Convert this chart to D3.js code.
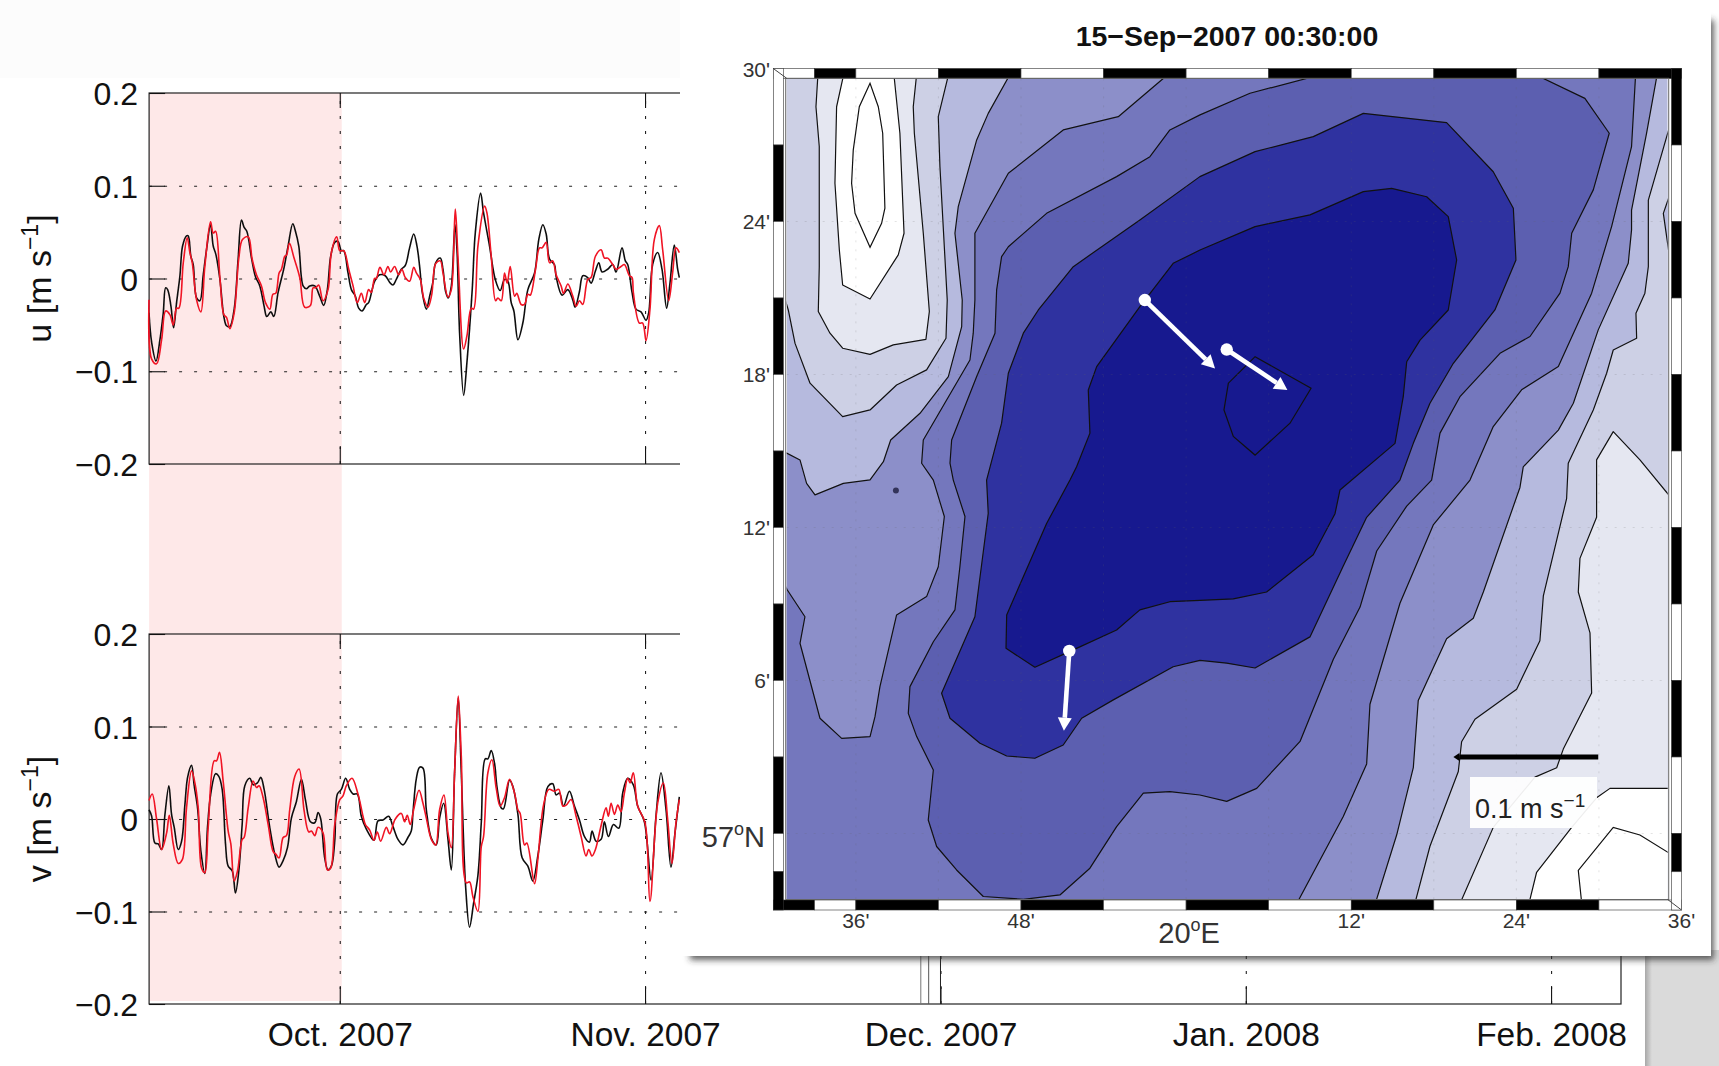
<!DOCTYPE html>
<html>
<head>
<meta charset="utf-8">
<script src="https://cdn.jsdelivr.net/npm/d3@7"></script>
<style>
  html, body { margin: 0; padding: 0; background: #fff; overflow: hidden; }
  svg { display: block; font-family: "Liberation Sans", Arial, sans-serif; }
</style>
</head>
<body>
<svg width="1719" height="1066"></svg>
<script>
// Time series: [days since 1 Oct 2007, velocity in m/s]
const uBlack = [[-19.37,-.037],[-19.1,-.069],[-18.66,-.089],[-18.26,-.066],[-17.92,-.037],[-17.68,-.01],[-17.48,-.012],[-17.14,-.03],[-16.87,-.053],[-16.57,-.026],[-16.23,.003],[-15.96,.035],[-15.56,.046],[-15.39,.046],[-15.12,.024],[-14.88,.015],[-14.54,-.021],[-14.2,-.024],[-13.87,.003],[-13.53,.031],[-13.12,.058],[-12.85,.035],[-12.58,.026],[-12.17,-.001],[-11.77,-.041],[-11.5,-.051],[-11.16,-.052],[-10.72,-.033],[-10.32,.021],[-9.98,.063],[-9.71,.055],[-9.44,.051],[-8.96,.022],[-8.56,.002],[-8.12,-.008],[-7.68,-.03],[-7.41,-.041],[-7,-.036],[-6.7,-.041],[-6.26,-.015],[-5.65,.012],[-5.25,.035],[-4.77,.059],[-4.5,.051],[-4.16,.035],[-3.72,-.008],[-3.39,-.011],[-3.05,-.008],[-2.54,-.008],[-2.04,-.019],[-1.63,-.029],[-1.26,-.012],[-.92,.024],[-.51,.039],[-.18,.04],[.16,.03],[.4,.03],[.84,.006],[1.18,-.012],[1.58,-.019],[1.92,-.032],[2.26,-.035],[2.7,-.028],[2.93,-.026],[3.54,-.003],[4.05,.004],[4.62,.003],[5.06,-.004],[5.4,-.007],[5.74,-.001],[6.25,.01],[6.65,.014],[7.09,.033],[7.51,.048],[7.84,.035],[8.11,.013],[8.38,-.015],[8.79,-.033],[9.13,-.019],[9.47,-.003],[9.74,.017],[10.21,.022],[10.48,.01],[10.75,-.014],[11.02,-.021],[11.33,-.008],[11.7,.058],[11.9,.031],[12.17,-.059],[12.58,-.126],[12.91,-.091],[13.45,-.012],[13.76,.049],[14.3,.092],[14.6,.071],[15.21,.035],[15.79,-.001],[16.29,-.013],[16.73,-.001],[17.07,-.003],[17.41,-.026],[17.68,-.035],[18.09,-.066],[18.59,-.048],[19.1,-.012],[19.78,.006],[20.21,.042],[20.62,.058],[20.96,.048],[21.3,.021],[21.8,.015],[21.97,.002],[22.58,-.018],[23.16,-.012],[23.66,-.023],[23.9,-.031],[24.34,-.014],[24.68,.003],[25.18,.001],[25.52,-.005],[25.96,.008],[26.3,.017],[26.64,.007],[27.21,.01],[27.72,.015],[28.06,.007],[28.66,.033],[29,.019],[29.24,.015],[29.68,-.015],[30.08,-.033],[30.59,-.036],[31.1,-.045],[31.37,-.037],[31.77,.015],[32.28,.028],[32.72,.01],[33.19,-.032],[33.53,-.005],[33.97,.036],[34.31,.01],[34.48,.001]];
const uRed = [[-19.37,-.023],[-19.1,-.087],[-18.6,-.092],[-18.09,-.066],[-17.68,-.035],[-17.25,-.039],[-16.91,-.05],[-16.57,-.032],[-16.33,-.032],[-15.89,.017],[-15.49,.044],[-15.22,.028],[-14.98,.017],[-14.54,-.023],[-14.1,-.036],[-13.7,.013],[-13.12,.061],[-12.85,.049],[-12.61,.051],[-12.17,.001],[-11.77,-.039],[-11.5,-.042],[-11.16,-.054],[-10.72,-.037],[-10.25,.022],[-9.88,.042],[-9.3,.045],[-8.9,.021],[-8.46,.004],[-7.95,-.008],[-7.54,-.026],[-7.1,-.033],[-6.79,-.017],[-6.5,-.016],[-6.16,.006],[-5.92,.01],[-5.58,.024],[-5.41,.025],[-5.11,.038],[-4.64,.022],[-4.06,.001],[-3.56,-.031],[-2.98,-.029],[-2.71,-.01],[-2.44,-.01],[-2.14,-.007],[-1.7,-.024],[-1.19,-.012],[-.85,.028],[-.31,.045],[0,.03],[.4,.03],[.91,.01],[1.35,-.008],[1.78,-.026],[2.19,-.016],[2.53,-.026],[2.93,-.012],[3.2,-.015],[3.54,0],[3.71,0],[4.08,.012],[4.49,.004],[4.89,.013],[5.16,.007],[5.57,.013],[5.98,.004],[6.31,.01],[6.65,.001],[7.09,-.003],[7.51,.012],[7.78,.006],[8.18,-.001],[8.52,-.021],[8.96,-.031],[9.33,-.018],[9.74,.016],[10.21,.019],[10.48,.006],[10.99,-.02],[11.33,-.012],[11.73,.075],[12,.024],[12.58,-.076],[12.91,-.062],[13.35,-.032],[13.59,-.033],[14.03,.035],[14.71,.078],[14.94,.071],[15.38,.024],[15.82,-.024],[16.06,-.021],[16.4,-.024],[16.73,.006],[17,-.005],[17.31,.013],[17.75,-.019],[17.98,-.016],[18.42,-.028],[18.76,-.028],[19.1,-.017],[19.34,-.018],[19.88,.01],[20.28,.033],[20.55,.033],[20.96,.039],[21.3,.017],[21.63,.019],[21.97,.004],[22.48,-.008],[22.72,-.016],[23.16,-.006],[23.66,-.019],[24,-.03],[24.34,-.024],[24.68,-.028],[25.18,-.001],[25.52,.001],[25.96,.024],[26.54,.031],[26.87,.022],[27.21,.022],[27.72,.015],[28.06,.01],[28.56,.013],[28.9,.015],[29.41,.003],[29.68,.001],[29.81,-.015],[30.42,-.048],[30.76,-.048],[31.1,-.067],[31.5,-.033],[31.94,.042],[32.45,.057],[32.79,.031],[33.4,-.024],[33.8,.006],[34.14,.033],[34.48,.028]];
const vBlack = [[-19.37,.01],[-19.1,.003],[-18.77,-.026],[-18.43,-.027],[-18.09,-.033],[-17.75,.005],[-17.35,.036],[-17.08,.005],[-16.81,-.009],[-16.4,-.033],[-16.06,-.024],[-15.72,.016],[-15.45,.045],[-15.05,.058],[-14.78,.036],[-14.44,.012],[-14.1,-.035],[-13.7,-.059],[-13.43,-.009],[-13.09,.028],[-12.61,.049],[-12.28,.046],[-11.94,.032],[-11.6,-.027],[-11.33,-.051],[-10.92,-.056],[-10.59,-.08],[-10.25,-.056],[-9.91,-.006],[-9.64,.036],[-9.13,.044],[-8.8,.037],[-8.36,.039],[-8.02,.045],[-7.68,.032],[-7.11,-.009],[-6.6,-.038],[-6.16,-.052],[-5.75,-.045],[-5.31,-.031],[-4.91,.001],[-4.4,.019],[-3.89,.043],[-3.49,.021],[-2.98,-.003],[-2.54,-.004],[-2.2,.007],[-1.93,0],[-1.53,-.042],[-1.19,-.055],[-.85,-.051],[-.51,-.024],[-.24,.027],[.16,.032],[.6,.044],[1.01,.032],[1.35,.027],[1.78,.027],[2.19,.003],[2.7,-.011],[3.47,-.023],[3.88,-.002],[4.39,-.001],[4.96,.003],[5.4,-.008],[5.91,-.022],[6.42,-.028],[6.92,-.02],[7.26,-.013],[7.44,.008],[7.78,.044],[8.11,.056],[8.45,.055],[8.79,.01],[9.3,-.021],[9.8,-.028],[10.14,.001],[10.55,.017],[10.99,-.022],[11.33,-.055],[11.66,.05],[12.03,.131],[12.34,.05],[12.78,-.073],[13.18,-.117],[13.59,-.091],[14.03,-.061],[14.37,-.004],[14.77,.065],[15.04,.065],[15.38,.074],[15.72,.06],[15.96,.035],[16.4,.012],[16.63,.011],[17.24,.042],[17.58,.035],[18.09,.005],[18.52,-.042],[19.1,-.051],[19.61,-.067],[20.11,-.04],[20.62,-.001],[21.13,.035],[21.63,.038],[21.97,.026],[22.31,.028],[22.72,.014],[23.32,.03],[23.83,.014],[24.34,-.001],[24.85,-.019],[25.35,-.025],[25.62,-.013],[26.03,-.024],[26.54,-.022],[26.87,-.003],[27.28,-.019],[27.79,-.006],[28.33,-.01],[28.73,.028],[29.24,.044],[29.81,.037],[30.25,.014],[30.93,-.003],[31.61,-.066],[32.11,.003],[32.62,.05],[33.13,.01],[33.63,-.052],[34.04,-.015],[34.48,.024]];
const vRed = [[-19.37,.02],[-19.04,.027],[-18.6,0],[-18.09,-.033],[-17.58,-.015],[-17.31,.004],[-16.91,-.027],[-16.4,-.048],[-15.99,-.044],[-15.56,.012],[-15.05,.052],[-14.71,.039],[-14.37,.012],[-14.03,-.053],[-13.7,-.058],[-13.36,-.009],[-12.75,.063],[-12.51,.063],[-12.21,.072],[-11.84,.041],[-11.33,-.013],[-11.06,-.027],[-10.72,-.067],[-10.38,-.056],[-9.91,-.022],[-9.71,-.02],[-9.3,.012],[-8.8,.041],[-8.46,.034],[-8.19,.036],[-7.78,.023],[-7.27,-.006],[-6.77,-.035],[-6.5,-.038],[-6.16,-.042],[-5.75,-.02],[-5.41,-.018],[-5.08,.01],[-4.57,.046],[-4.13,.054],[-3.62,.009],[-3.15,-.014],[-2.88,-.013],[-2.54,-.018],[-2.2,-.009],[-1.7,-.015],[-1.26,-.055],[-.92,-.053],[-.51,-.006],[0,.021],[.33,.025],[.67,.036],[1.24,.044],[1.85,.027],[2.36,.003],[2.6,-.006],[3.04,-.012],[3.47,-.023],[3.81,-.014],[4.15,-.024],[4.73,-.009],[5.06,-.016],[5.64,0],[6.25,.006],[6.58,-.003],[6.85,.004],[7.16,-.006],[7.5,.01],[8.05,.031],[8.45,.017],[8.79,.001],[9.3,-.022],[9.74,-.028],[10.14,.01],[10.58,.026],[10.99,-.015],[11.33,-.031],[11.66,.05],[12.03,.133],[12.34,.068],[12.85,-.069],[13.18,-.068],[13.52,-.084],[14.03,-.1],[14.37,-.03],[14.6,-.019],[15.04,.05],[15.45,.064],[15.89,.033],[16.29,.014],[16.73,.023],[17.24,.043],[17.75,.028],[18.09,.01],[18.32,.006],[18.76,-.028],[19,-.026],[19.78,-.07],[20.11,-.044],[20.69,.015],[21.23,.032],[21.8,.03],[22.24,.032],[22.65,.014],[22.99,.015],[23.49,.021],[24,.003],[24.51,-.019],[25.01,-.04],[25.28,-.033],[25.62,-.04],[25.96,-.033],[26.54,-.007],[27.04,.012],[27.28,.003],[27.55,.017],[27.89,.005],[28.23,.015],[28.56,.008],[28.9,.028],[29.24,.044],[29.48,.039],[29.81,.05],[30.25,.014],[31,-.004],[31.5,-.089],[32.28,.017],[32.86,.039],[33.3,-.001],[33.73,-.048],[34.14,-.004],[34.48,.021]];

const yTicks = [-0.2, -0.1, 0, 0.1, 0.2];
const monthDays = [0, 31, 61, 92, 123];
const monthLabels = ["Oct. 2007", "Nov. 2007", "Dec. 2007", "Jan. 2008", "Feb. 2008"];
const dayRange = [-19.36, 130.1];
const shadedDays = [-19.36, 0.2];
const strayDays = [59, 59.8, 61];

// Map contours: [minutes east of 19E, minutes north of 57N]
const lineD1 = [[30.5,21.6],[31.09,20.53],[31.58,19.22],[32.67,17.66],[35.04,16.35],[37.03,16.61],[38.96,17.59],[41.14,18.18],[42.55,19.42],[42.64,20.92],[42.11,26.15],[41.99,28.11],[42.84,30],[30.5,30]];
const lineA1 = [[33.27,30],[33.1,28.5],[33.34,26.94],[33.34,22.23],[33.27,20.47],[34.12,19.62],[35.04,19.03],[37.03,18.79],[38.72,19.16],[41.09,19.38],[41.34,20.47],[40.9,23.54],[40.25,27.46],[40.17,28.5],[40.46,30]];
const lineB1 = [[35.21,30],[34.6,28.5],[34.48,25.5],[34.8,22.88],[35.04,21.51],[37.03,20.96],[39.08,22.69],[39.5,23.54],[39.2,27.46],[38.72,30]];
const lineC1 = [[37.03,29.42],[36.25,28.5],[35.81,26.8],[35.69,25.5],[35.94,24.32],[37.03,22.99],[37.87,23.93],[38.11,24.52],[37.95,27.46],[37.63,28.5]];
const lineD2 = [[95.5,28.4],[93.59,24.84],[93.59,22.23],[93.34,21.19],[92.69,20.4],[92.74,19.42],[91.04,18.96],[90.56,18.05],[89.59,16.61],[87.77,14.52],[87.65,13.13],[85.96,9.32],[85.71,7.56],[84.02,5.66],[80.99,4.48],[80.02,3.6],[79.78,2.43],[77.72,-.5],[76.5,-3],[95.5,-3]];
const lineA2 = [[95.5,13],[92.98,14.65],[91.04,15.76],[89.83,14.65],[89.83,12.4],[88.62,10.79],[88.5,9.47],[89.35,7.87],[89.47,5.51],[87.41,3.31],[86.93,2.58],[85.35,2.21],[82.32,.24],[79.7,-3],[95.5,-3]];
const lineB2 = [[95.5,1.77],[90.8,1.77],[89.83,1.4],[88.02,.24],[85.47,-1.52],[84.8,-3],[95.5,-3]];
const lineK = [[95.5,-.9],[92.98,-.06],[91.04,.24],[88.5,-1.45],[88.8,-3]];
const lineL = [[95.5,25.6],[94.68,24.32],[95.5,21.2]];
const lineE = [[30.5,15.05],[31.94,14.65],[32.42,13.73],[33.03,13.28],[35.09,13.73],[37.03,13.87],[38,14.58],[38.53,15.43],[40.66,16.48],[42.72,17.92],[43.69,19.88],[43.73,20.92],[43.2,23.54],[43.44,24.58],[44.78,27.2],[45.62,28.24],[47.44,30],[94.31,30],[93.46,27.46],[92.37,24.45],[92.37,23.67],[92.13,22.36],[89.95,19.75],[88.14,16.87],[87.05,15.82],[84.5,14.38],[84.26,13.57],[81.6,9.47],[80.87,8.44],[78.93,7.64],[76.87,5.22],[76.51,2.58],[75.3,-.06],[73.6,-3],[30.5,-3]];
const lineF = [[59.2,30],[58.34,29.61],[55.07,28.11],[51.07,27.59],[47.08,25.89],[44.65,23.54],[44.65,20.92],[44.53,19.62],[44.29,18.57],[40.9,15.43],[40.78,14.52],[41.63,13.86],[42.43,12.43],[41.99,10.46],[41.14,9.29],[38.96,8.57],[37.75,5.76],[37.39,4.58],[37.03,3.8],[34.97,3.73],[33.39,4.52],[31.94,7.46],[32.3,8.5],[31.02,9.55],[30.5,10.1],[30.5,-3],[67.79,-3],[71.42,.67],[73.12,2.73],[73.36,5.07],[75.54,9.03],[77.96,12.1],[80.63,13.86],[82.32,15.96],[84.38,17.4],[87.05,18.31],[89.47,21.19],[90.92,23.8],[92.37,26.94],[92.69,30]];
const lineG = [[71.5,30],[68.76,29.61],[64.64,29.03],[61.01,28.18],[58.82,27.59],[57.37,26.54],[54.95,25.76],[49.86,24.32],[47.08,23.01],[46.59,22.62],[46.23,21.32],[46.11,19.62],[44.78,17.92],[42.96,15.43],[42.84,14.52],[43.08,13.86],[43.93,12.43],[43.56,10.46],[43.2,8.77],[41.63,7.52],[39.93,5.76],[39.81,4.71],[40.42,3.8],[41.63,2.49],[41.26,.53],[41.87,-.51],[43.32,-1.43],[45.26,-2.47],[48.17,-2.58],[50.83,-2.41],[53.01,-1.36],[54.95,.27],[56.89,1.58],[58.82,1.64],[61,1.51],[62.95,1.26],[65.13,1.77],[68.28,3.61],[70.7,6.83],[72.64,8.88],[73.85,11.08],[76.03,12.84],[77.84,13.86],[78.45,15.7],[79.9,17.13],[82.81,18.83],[84.99,19.49],[87.17,21.19],[87.77,22.23],[88.02,23.54],[89.59,25.24],[90.75,27.46],[88.98,28.83],[85.96,29.61],[84.02,30]];
const lineH = [[61,25.76],[65.01,26.74],[69.24,27.33],[72.88,28.24],[78.93,27.88],[82.32,25.95],[83.78,24.52],[83.97,22.49],[82.44,20.53],[79.42,18.44],[77.72,16.87],[76.51,15.3],[75.54,13.86],[73.12,12.4],[71.42,10.49],[69,7.71],[65.01,6.49],[62.95,6.68],[61.01,6.79],[59.06,6.54],[54.71,5.24],[52.41,4.52],[51.07,3.47],[49.01,2.95],[46.96,3.04],[45.02,3.54],[42.84,4.52],[42.23,5.5],[44.65,8.5],[45.62,12.56],[45.5,13.86],[46.59,16.09],[47.08,18.05],[48.17,19.62],[49.26,20.53],[51.8,22.23],[56.64,24.06]];
const lineI = [[61.01,22.88],[65.01,23.8],[69,24.26],[72.88,25.17],[74.94,25.3],[77.48,24.97],[79.05,24.19],[79.66,22.49],[79.05,20.53],[77,19.35],[76.03,18.5],[75.78,17.13],[75.18,15.3],[71.18,13.47],[70.82,12.54],[69.24,10.93],[65.85,9.47],[63.43,9.2],[61.01,9.14],[58.82,9.09],[56.64,8.77],[54.95,7.98],[51.8,7.2],[49.01,6.52],[46.91,7.26],[46.96,8.57],[49.86,12.16],[51.56,13.86],[52.04,14.38],[53.01,15.7],[52.89,17.39],[53.5,18.31],[56.64,20.66],[59.06,22.36]];
const lineJ = [[65.01,18.7],[69.08,17.46],[67.55,16.09],[65.01,14.84],[63.43,15.57],[62.75,16.61],[63.07,17.66],[64.16,18.24]];

const lonEdges = [30, 33, 36, 42, 48, 54, 60, 66, 72, 78, 84, 90, 96];
const latEdges = [30, 27, 24, 21, 18, 15, 12, 9, 6, 3, 0, -1.5, -3];
const lonTicks = [36, 48, 72, 84, 96];
const lonTickLabels = ["36'", "48'", "12'", "24'", "36'"];
const latTicks = [30, 24, 18, 12, 6];
const latTickLabels = ["30'", "24'", "18'", "12'", "6'"];

// Current vectors: start and end in map minutes
const whiteArrows = [[[57,20.92],[62.1,18.24]], [[62.95,18.98],[67.36,17.39]], [[51.51,7.16],[51.12,4.03]]];
const scaleArrow = [[89.95,3],[79.42,3]];
const spot = [38.91,13.45];

const svg = d3.select("svg");
const dayToDate = (d) => new Date(Date.UTC(2007, 9, 1) + d * 864e5);

// Page background
svg.append("rect").attr("width", 680).attr("height", 78).attr("fill", "#fcfcfc");
const defs = svg.append("defs");
const edge = defs.append("linearGradient").attr("id", "edge");
edge.append("stop").attr("offset", "0").attr("stop-color", "#a8a8a8");
edge.append("stop").attr("offset", "1").attr("stop-color", "#dadada");
svg.append("rect").attr("x", 1645).attr("y", 950).attr("width", 74).attr("height", 116).attr("fill", "#dadada");
svg.append("rect").attr("x", 1645).attr("y", 950).attr("width", 7).attr("height", 116).attr("fill", "url(#edge)");

const soften = defs.append("filter").attr("id", "soften");
soften.append("feGaussianBlur").attr("stdDeviation", 0.35);

// ---- time series panels ----
const x = d3.scaleUtc().domain(dayRange.map(dayToDate)).range([149.1, 1621]);
const uY = d3.scaleLinear().domain([-0.2, 0.2]).range([464, 93]);
const vY = d3.scaleLinear().domain([-0.2, 0.2]).range([1004, 634]);
const monthDates = monthDays.map(dayToDate);
const fmt = (d) => (d === 0 ? "0" : d3.format(".1f")(d).replace("-", "\u2212"));

svg.append("rect")
  .attr("x", x(dayToDate(shadedDays[0])))
  .attr("y", uY(0.2))
  .attr("width", x(dayToDate(shadedDays[1])) - x(dayToDate(shadedDays[0])))
  .attr("height", vY(-0.2) - 3 - uY(0.2))
  .attr("fill", "#fee8e8");

function drawPanel(y, black, red, withLabels, name) {
  const g = svg.append("g");
  const left = x.range()[0], right = x.range()[1];
  const top = y.range()[1], bottom = y.range()[0];

  // dotted grid
  g.append("g").attr("transform", `translate(${left},0)`)
    .call(d3.axisLeft(y).tickValues([-0.1, 0, 0.1]).tickSize(-(right - left)).tickFormat(""))
    .call((s) => s.select(".domain").remove())
    .selectAll("line").attr("stroke", "#222").attr("stroke-width", 1.1).attr("stroke-dasharray", "3,12");
  g.append("g").attr("transform", `translate(0,${bottom})`)
    .call(d3.axisBottom(x).tickValues(monthDates).tickSize(-(bottom - top)).tickFormat(""))
    .call((s) => s.select(".domain").remove())
    .selectAll("line").attr("stroke", "#222").attr("stroke-width", 1.1).attr("stroke-dasharray", "3,12");

  // frame and short ticks
  g.append("rect").attr("x", left).attr("y", top).attr("width", right - left).attr("height", bottom - top)
    .attr("fill", "none").attr("stroke", "#222").attr("stroke-width", 1.2);
  const yAxis = g.append("g").attr("transform", `translate(${left},0)`)
    .call(d3.axisLeft(y).tickValues(yTicks).tickSize(-16).tickPadding(11).tickFormat(fmt));
  yAxis.select(".domain").remove();
  yAxis.selectAll("line").attr("stroke", "#111").attr("stroke-width", 1.1);
  yAxis.selectAll("text").attr("font-size", 32).attr("font-family", "Liberation Sans").attr("fill", "#111").attr("dy", "0.36em");

  const topAxis = g.append("g").attr("transform", `translate(0,${top})`)
    .call(d3.axisTop(x).tickValues(monthDates).tickSize(-15).tickFormat(""));
  topAxis.select(".domain").remove();
  topAxis.selectAll("line").attr("stroke", "#111").attr("stroke-width", 1.1);

  const xAxis = g.append("g").attr("transform", `translate(0,${bottom})`)
    .call(d3.axisBottom(x).tickValues(monthDates).tickSizeInner(-17).tickSizeOuter(0).tickPadding(18)
      .tickFormat((d, i) => (withLabels ? monthLabels[i] : "")));
  xAxis.select(".domain").remove();
  xAxis.selectAll("line").attr("stroke", "#111").attr("stroke-width", 1.1);
  xAxis.selectAll("text").attr("font-size", 33.5).attr("font-family", "Liberation Sans").attr("fill", "#111");

  // curves
  const line = d3.line()
    .curve(d3.curveCatmullRom.alpha(0.5))
    .x((d) => x(dayToDate(d[0])))
    .y((d) => y(d[1]));
  g.append("path").datum(black).attr("d", line).attr("fill", "none").attr("stroke", "#111").attr("stroke-width", 1.6).attr("filter", "url(#soften)");
  g.append("path").datum(red).attr("d", line).attr("fill", "none").attr("stroke", "#f01224").attr("stroke-width", 1.6).attr("filter", "url(#soften)");

  // rotated label
  const label = g.append("text")
    .attr("transform", `translate(51,${y(0)}) rotate(-90)`)
    .attr("text-anchor", "middle").attr("font-size", 34).attr("fill", "#111");
  label.append("tspan").text(name + " [m s");
  label.append("tspan").attr("dy", -13).attr("font-size", 23).text("\u22121");
  label.append("tspan").attr("dy", 13).text("]");
}

drawPanel(uY, uBlack, uRed, false, "u");
drawPanel(vY, vBlack, vRed, true, "v");

// stray lines next to the December tick
svg.selectAll(".stray").data(strayDays).enter().append("line")
  .attr("x1", (d) => x(dayToDate(d))).attr("x2", (d) => x(dayToDate(d)))
  .attr("y1", 900).attr("y2", vY(-0.2))
  .attr("stroke", (d, i) => ["#777", "#555", "#222"][i]).attr("stroke-width", 1);

// ---- overlaid map ----
// shadow sits only to the right of and below the sheet
const shadow = defs.append("filter").attr("id", "shadow")
  .attr("x", "-3%").attr("y", "-3%").attr("width", "106%").attr("height", "106%");
shadow.append("feGaussianBlur").attr("stdDeviation", 3.2);
svg.append("rect").attr("x", 690).attr("y", 20).attr("width", 1024).attr("height", 940)
  .attr("fill", "#333").attr("fill-opacity", 0.75).attr("filter", "url(#shadow)");
svg.append("rect").attr("x", 680).attr("y", 0).attr("width", 1031).attr("height", 956).attr("fill", "#fff");

const mapX = d3.scaleLinear().domain([30, 96]).range([773.3, 1681.5]);
const mapY = d3.scaleLinear().domain([-3, 30]).range([910, 68.5]);
const plot = { x0: 786.7, x1: 1667.7, y0: 78.3, y1: 899.5 };
const contour = d3.line().x((d) => mapX(d[0])).y((d) => mapY(d[1]));

defs.append("clipPath").attr("id", "plotClip").append("rect")
  .attr("x", plot.x0).attr("y", plot.y0).attr("width", plot.x1 - plot.x0).attr("height", plot.y1 - plot.y0);

const map = svg.append("g").attr("clip-path", "url(#plotClip)");
map.append("rect").attr("x", plot.x0).attr("y", plot.y0).attr("width", plot.x1 - plot.x0).attr("height", plot.y1 - plot.y0)
  .attr("fill", "#b6bade");

const fills = [
  [lineD1, "#cdd0e5"], [lineA1, "#e5e7f1"], [lineB1, "#ffffff"],
  [lineD2, "#cdd0e5"], [lineA2, "#e5e7f1"], [lineB2, "#ffffff"], [lineL, "#b6bade"],
  [lineE, "#8c8fc9"], [lineF, "#7477bd"], [lineG, "#5c5fb0"], [lineH, "#2f32a0"], [lineI, "#17198f"],
];
fills.forEach(([pts, color]) => {
  map.append("path").attr("d", contour(pts) + "Z").attr("fill", color)
    .attr("stroke", "#111").attr("stroke-width", 1.2).attr("stroke-linejoin", "round");
});
[[lineC1, true], [lineJ, true], [lineK, false]].forEach(([pts, closed]) => {
  map.append("path").attr("d", contour(pts) + (closed ? "Z" : "")).attr("fill", "none")
    .attr("stroke", "#111").attr("stroke-width", 1.2);
});

// faint dotted graticule
map.selectAll(".gx").data(lonEdges.filter((d) => d > 33)).enter().append("line")
  .attr("x1", mapX).attr("x2", mapX).attr("y1", plot.y0).attr("y2", plot.y1)
  .attr("stroke", "#666").attr("stroke-opacity", 0.18).attr("stroke-dasharray", "2,7");
map.selectAll(".gy").data(latEdges.filter((d) => d % 6 === 0)).enter().append("line")
  .attr("y1", mapY).attr("y2", mapY).attr("x1", plot.x0).attr("x2", plot.x1)
  .attr("stroke", "#666").attr("stroke-opacity", 0.18).attr("stroke-dasharray", "2,7");

// spot
map.append("circle").attr("cx", mapX(spot[0])).attr("cy", mapY(spot[1])).attr("r", 3).attr("fill", "#33335a");

// checker border
const band = 10;
const lonBands = d3.pairs(lonEdges);
const latBands = d3.pairs(latEdges);
function horizontalBand(y, firstBlack) {
  svg.append("g").selectAll("rect").data(lonBands).enter().append("rect")
    .attr("x", (d) => mapX(d[0])).attr("width", (d) => mapX(d[1]) - mapX(d[0]))
    .attr("y", y).attr("height", band)
    .attr("fill", (d, i) => ((i % 2 === 0) === firstBlack ? "#000" : "#fff"))
    .attr("stroke", "#333").attr("stroke-width", 0.6);
}
function verticalBand(x0, firstBlack) {
  svg.append("g").selectAll("rect").data(latBands).enter().append("rect")
    .attr("y", (d) => mapY(d[0])).attr("height", (d) => mapY(d[1]) - mapY(d[0]))
    .attr("x", x0).attr("width", band)
    .attr("fill", (d, i) => ((i % 2 === 0) === firstBlack ? "#000" : "#fff"))
    .attr("stroke", "#333").attr("stroke-width", 0.6);
}
horizontalBand(mapY(30), false);
horizontalBand(mapY(-3) - band, true);
verticalBand(mapX(30), false);
verticalBand(mapX(96) - band, true);

// inner frame and corner ticks
svg.append("rect").attr("x", plot.x0 - 1).attr("y", plot.y0).attr("width", plot.x1 - plot.x0 + 2).attr("height", plot.y1 - plot.y0)
  .attr("fill", "none").attr("stroke", "#666").attr("stroke-width", 1);
[[mapX(30), mapY(30), plot.x0, plot.y0], [mapX(96), mapY(-3), plot.x1, plot.y1]].forEach((c) => {
  svg.append("line").attr("x1", c[0]).attr("y1", c[1]).attr("x2", c[2]).attr("y2", c[3])
    .attr("stroke", "#444").attr("stroke-width", 1);
});

// tick labels
const mapText = svg.append("g").attr("fill", "#333");
mapText.selectAll(".lat").data(latTicks).enter().append("text")
  .attr("x", 770).attr("y", (d) => mapY(d) + (d === 30 ? 8.5 : 7.5)).attr("text-anchor", "end").attr("font-size", 21)
  .text((d, i) => latTickLabels[i]);
mapText.selectAll(".lon").data(lonTicks).enter().append("text")
  .attr("x", mapX).attr("y", 928).attr("text-anchor", "middle").attr("font-size", 21)
  .text((d, i) => lonTickLabels[i]);

function degreeLabel(xPos, yPos, a, b, anchor) {
  const t = mapText.append("text").attr("x", xPos).attr("y", yPos).attr("font-size", 29).attr("text-anchor", anchor);
  t.append("tspan").text(a);
  t.append("tspan").attr("dy", -12).attr("font-size", 18).text("o");
  t.append("tspan").attr("dy", 12).text(b);
}
degreeLabel(765, 847, "57", "N", "end");
degreeLabel(mapX(60) + 3, 943, "20", "E", "middle");

svg.append("text").attr("x", 1227).attr("y", 46).attr("text-anchor", "middle")
  .attr("font-size", 28.5).attr("font-weight", "bold").attr("fill", "#111")
  .text("15\u2212Sep\u22122007 00:30:00");

// scale arrow with its label
svg.append("rect").attr("x", 1470).attr("y", 777).attr("width", 127).attr("height", 51)
  .attr("fill", "#fff").attr("fill-opacity", 0.93);
const scaleText = svg.append("text").attr("x", 1475).attr("y", 818).attr("font-size", 27).attr("fill", "#222");
scaleText.append("tspan").text("0.1 m s");
scaleText.append("tspan").attr("dy", -11).attr("font-size", 19).text("\u22121");

function arrow(parent, pts, color, width, headLen, headHalf) {
  const x0 = mapX(pts[0][0]), y0 = mapY(pts[0][1]);
  const x1 = mapX(pts[1][0]), y1 = mapY(pts[1][1]);
  const a = Math.atan2(y1 - y0, x1 - x0);
  const bx = x1 - headLen * Math.cos(a), by = y1 - headLen * Math.sin(a);
  parent.append("line").attr("x1", x0).attr("y1", y0).attr("x2", bx).attr("y2", by)
    .attr("stroke", color).attr("stroke-width", width);
  parent.append("path")
    .attr("d", d3.line()([[x1, y1], [bx - headHalf * Math.sin(a), by + headHalf * Math.cos(a)], [bx + headHalf * Math.sin(a), by - headHalf * Math.cos(a)]]) + "Z")
    .attr("fill", color);
}
const arrows = svg.append("g");
whiteArrows.forEach((pts) => {
  arrow(arrows, pts, "#fff", 4.6, 13, 7);
  arrows.append("circle").attr("cx", mapX(pts[0][0])).attr("cy", mapY(pts[0][1])).attr("r", 6.2).attr("fill", "#fff");
});
arrow(arrows, scaleArrow, "#000", 5.2, 6, 4);
</script>
</body>
</html>
